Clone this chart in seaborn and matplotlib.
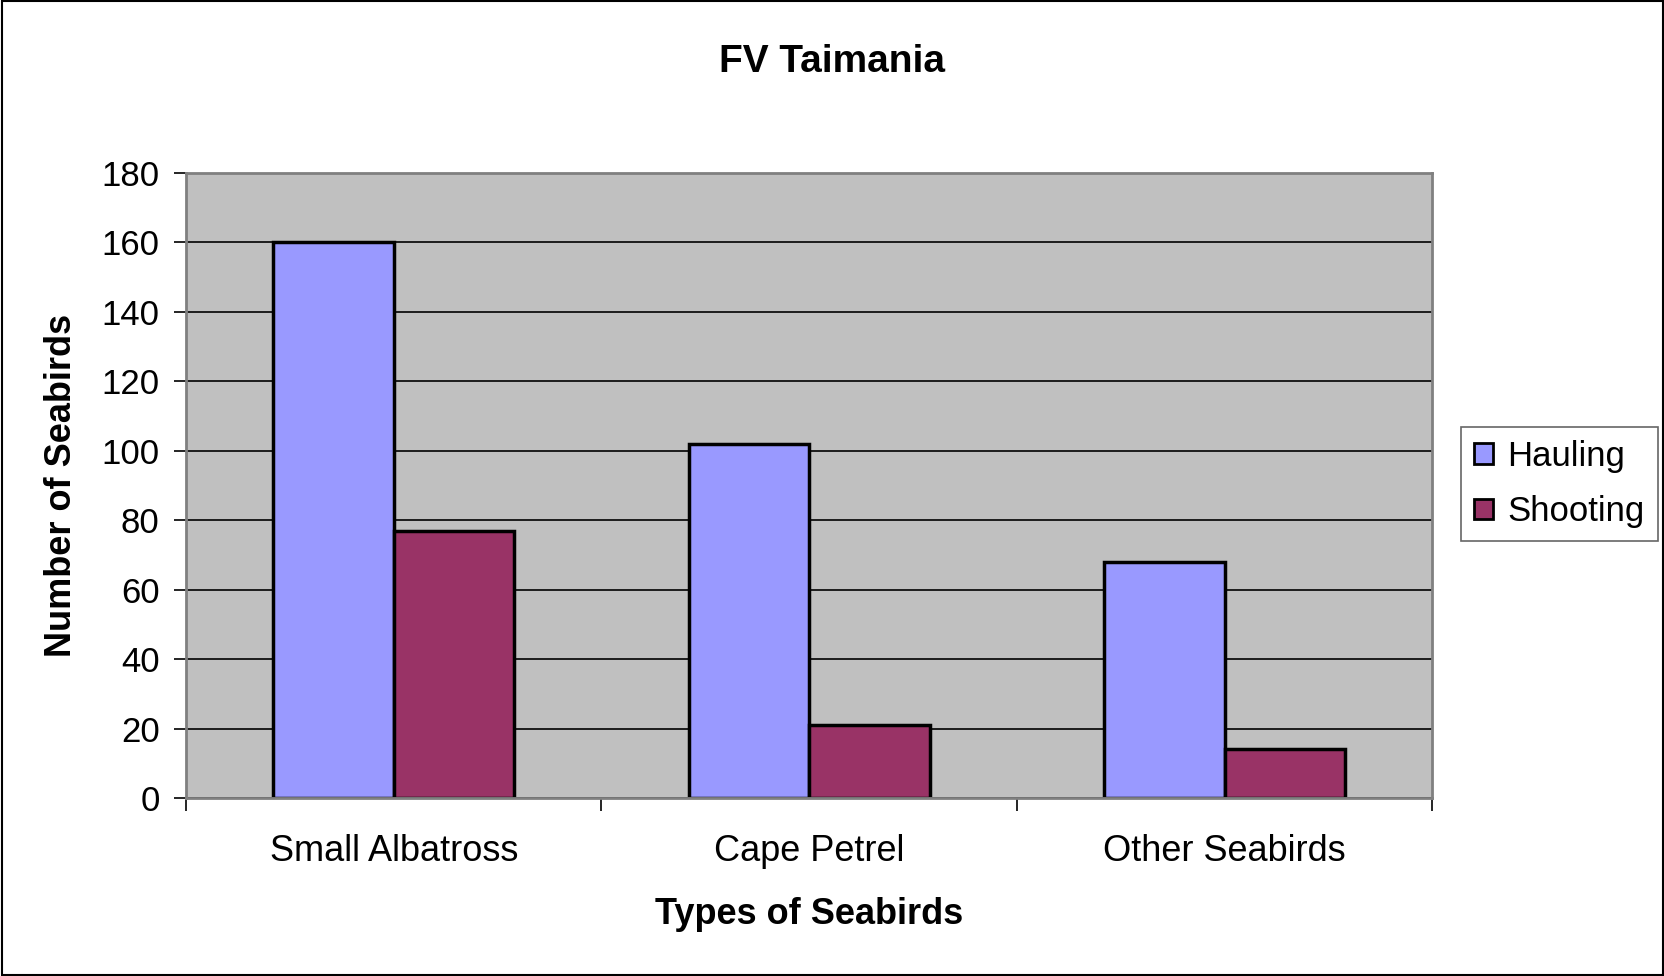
import pandas as pd
import numpy as np
import matplotlib
matplotlib.use("Agg")
import matplotlib.pyplot as plt
import seaborn as sns
from matplotlib.patches import Patch, Rectangle

categories = ["Small Albatross", "Cape Petrel", "Other Seabirds"]
hauling = [160, 102, 68]
shooting = [77, 21, 14]
series_names = ["Hauling", "Shooting"]
colors = ["#9999FF", "#993366"]
y_ticks = [0, 20, 40, 60, 80, 100, 120, 140, 160, 180]

df = pd.DataFrame({
    "category": categories * 2,
    "series": [series_names[0]] * 3 + [series_names[1]] * 3,
    "count": hauling + shooting,
})

sns.set_style("white")
plt.rcParams["font.family"] = ["Liberation Sans", "DejaVu Sans"]
plt.rcParams["text.color"] = "black"
plt.rcParams["axes.labelcolor"] = "black"
plt.rcParams["xtick.color"] = "black"
plt.rcParams["ytick.color"] = "black"

fig = plt.figure(figsize=(16.65, 9.76), dpi=100)
ax = fig.add_axes([0.1117, 0.1824, 0.7485, 0.6403])
ax.set_facecolor("#C0C0C0")

sns.barplot(data=df, x="category", y="count", hue="series", order=categories,
            hue_order=series_names, palette=colors, width=0.58,
            edgecolor="black", linewidth=2.5, saturation=1, legend=False, ax=ax)

ax.set_ylim(0, 180)
ax.set_xlim(-0.5, 2.5)
ax.set_yticks(y_ticks)
ax.yaxis.grid(True, color="black", linewidth=1.2)
ax.set_axisbelow(True)
ax.tick_params(axis="y", labelsize=25, length=9, width=1.2, color="black",
               direction="out", left=True, pad=10)
ax.tick_params(axis="x", labelsize=26, length=0, pad=26)
ax.set_xticks(np.arange(-0.5, 3, 1), minor=True)
ax.tick_params(axis="x", which="minor", length=9, width=1.2, color="black",
               direction="out", bottom=True)
for s in ax.spines.values():
    s.set_color("#808080")
    s.set_linewidth(2)

ax.set_xlabel("Types of Seabirds", fontsize=26, fontweight="bold", labelpad=20)
ax.set_ylabel("Number of Seabirds", fontsize=26, fontweight="bold", labelpad=16)

fig.text(0.5, 0.936, "FV Taimania", ha="center", va="center",
         fontsize=28, fontweight="bold")

handles = [Patch(facecolor=c, edgecolor="black", linewidth=2, label=n)
           for c, n in zip(colors, series_names)]
leg = fig.legend(handles=handles, loc="upper left", bbox_to_anchor=(0.8775, 0.563),
                 fontsize=25, frameon=True, fancybox=False, handlelength=0.55,
                 handleheight=0.55, handletextpad=0.4, labelspacing=0.65,
                 borderpad=0.38, borderaxespad=0)
leg.get_frame().set_edgecolor("#404040")
leg.get_frame().set_linewidth(1.2)

fig.patches.append(Rectangle((0.001, 0.001), 0.998, 0.998, transform=fig.transFigure,
                             fill=False, edgecolor="black", linewidth=1.5))

fig.savefig("out.png", dpi=100, facecolor="white")
